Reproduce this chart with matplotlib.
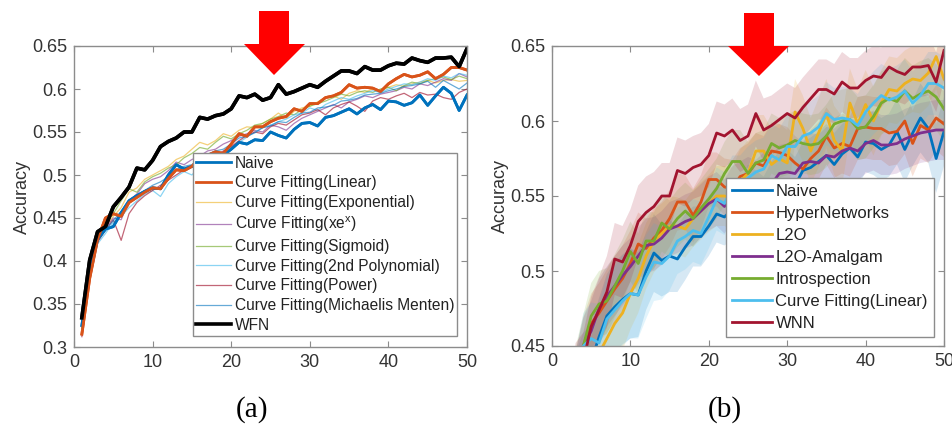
import numpy as np
import matplotlib
matplotlib.use("Agg")
import matplotlib.pyplot as plt
from matplotlib.patches import Polygon

epochs = list(range(1, 51))

wfn = [0.334,0.401,0.434,0.440,0.463,0.474,0.486,0.508,0.506,0.517,0.533,0.539,0.543,0.550,0.550,0.567,0.565,0.569,0.571,0.577,
       0.592,0.590,0.594,0.587,0.590,0.605,0.594,0.597,0.601,0.605,0.602,0.609,0.615,0.621,0.621,0.618,0.626,0.622,0.622,0.627,
       0.630,0.629,0.636,0.633,0.631,0.636,0.636,0.637,0.626,0.647]
naive = [0.325,0.390,0.425,0.437,0.440,0.456,0.470,0.476,0.481,0.485,0.484,0.500,0.512,0.507,0.510,0.508,0.516,0.523,0.523,0.530,
         0.538,0.536,0.541,0.540,0.550,0.546,0.543,0.553,0.560,0.561,0.557,0.567,0.569,0.573,0.577,0.571,0.578,0.582,0.576,0.586,
         0.585,0.581,0.584,0.593,0.581,0.592,0.602,0.595,0.575,0.593]
cf_linear = [0.315,0.380,0.425,0.450,0.455,0.452,0.468,0.474,0.480,0.485,0.484,0.496,0.506,0.505,0.510,0.520,0.523,0.527,0.525,0.536,
             0.548,0.545,0.556,0.556,0.562,0.566,0.568,0.577,0.574,0.583,0.583,0.590,0.592,0.596,0.605,0.601,0.602,0.601,0.597,0.606,
             0.612,0.617,0.614,0.616,0.620,0.612,0.617,0.625,0.625,0.622]
cf_exp = [0.320,0.385,0.428,0.440,0.452,0.462,0.480,0.485,0.495,0.500,0.505,0.510,0.518,0.522,0.530,0.538,0.535,0.540,0.548,0.545,
          0.552,0.556,0.555,0.560,0.565,0.572,0.566,0.574,0.578,0.580,0.585,0.590,0.592,0.588,0.595,0.598,0.596,0.600,0.598,0.602,
          0.605,0.603,0.606,0.608,0.610,0.607,0.610,0.611,0.609,0.610]
cf_xex = [0.318,0.382,0.426,0.438,0.450,0.448,0.470,0.478,0.490,0.495,0.498,0.505,0.515,0.512,0.518,0.522,0.528,0.530,0.536,0.540,
          0.545,0.548,0.552,0.550,0.558,0.556,0.552,0.560,0.566,0.570,0.574,0.578,0.582,0.578,0.585,0.588,0.592,0.590,0.594,0.596,
          0.598,0.602,0.600,0.606,0.604,0.608,0.612,0.610,0.618,0.614]
cf_sigmoid = [0.322,0.388,0.430,0.442,0.455,0.470,0.484,0.480,0.492,0.498,0.502,0.508,0.512,0.520,0.525,0.532,0.530,0.538,0.545,0.542,
              0.548,0.552,0.558,0.560,0.565,0.568,0.572,0.570,0.576,0.580,0.583,0.586,0.590,0.594,0.592,0.596,0.598,0.596,0.600,0.602,
              0.598,0.604,0.608,0.606,0.610,0.612,0.614,0.611,0.615,0.612]
cf_poly2 = [0.320,0.380,0.420,0.432,0.445,0.452,0.462,0.470,0.478,0.482,0.475,0.490,0.498,0.504,0.500,0.510,0.515,0.520,0.525,0.532,
            0.538,0.544,0.550,0.555,0.558,0.562,0.565,0.570,0.572,0.578,0.575,0.582,0.586,0.590,0.588,0.592,0.595,0.598,0.596,0.600,
            0.603,0.606,0.605,0.608,0.612,0.610,0.615,0.613,0.618,0.616]
cf_power = [0.312,0.378,0.422,0.436,0.448,0.424,0.455,0.468,0.476,0.482,0.488,0.494,0.500,0.506,0.510,0.515,0.520,0.522,0.528,0.533,
            0.540,0.546,0.550,0.548,0.556,0.560,0.558,0.564,0.570,0.572,0.576,0.570,0.578,0.582,0.585,0.580,0.574,0.586,0.590,0.588,
            0.592,0.595,0.590,0.596,0.593,0.594,0.590,0.588,0.596,0.600]
cf_mm = [0.318,0.384,0.424,0.436,0.447,0.458,0.468,0.476,0.482,0.488,0.492,0.498,0.506,0.510,0.512,0.518,0.524,0.528,0.530,0.536,
         0.543,0.545,0.549,0.555,0.557,0.562,0.561,0.567,0.572,0.573,0.578,0.579,0.581,0.586,0.587,0.589,0.593,0.594,0.595,0.598,
         0.600,0.603,0.604,0.606,0.609,0.602,0.610,0.605,0.600,0.607]

hyper = [0.318,0.385,0.428,0.450,0.465,0.472,0.480,0.488,0.495,0.505,0.518,0.515,0.522,0.527,0.535,0.546,0.546,0.537,0.546,0.561,
         0.561,0.556,0.555,0.563,0.565,0.572,0.570,0.580,0.579,0.577,0.572,0.568,0.575,0.580,0.590,0.582,0.585,0.583,0.595,0.596,
         0.595,0.595,0.592,0.593,0.600,0.585,0.597,0.594,0.602,0.598]
l2o = [0.300,0.365,0.405,0.420,0.432,0.445,0.455,0.465,0.472,0.485,0.495,0.510,0.520,0.525,0.530,0.530,0.528,0.535,0.540,0.545,
       0.550,0.550,0.548,0.560,0.565,0.580,0.580,0.571,0.575,0.572,0.606,0.595,0.580,0.592,0.605,0.587,0.580,0.612,0.598,0.611,
       0.600,0.612,0.621,0.620,0.625,0.628,0.627,0.632,0.643,0.628]
amalgam = [0.320,0.386,0.428,0.450,0.460,0.475,0.483,0.490,0.497,0.503,0.510,0.517,0.518,0.522,0.528,0.530,0.533,0.535,0.540,0.545,
           0.548,0.543,0.552,0.555,0.558,0.555,0.560,0.558,0.565,0.566,0.565,0.572,0.573,0.572,0.577,0.576,0.580,0.582,0.580,0.585,
           0.587,0.584,0.584,0.585,0.588,0.590,0.592,0.593,0.594,0.594]
introspection = [0.322,0.390,0.430,0.450,0.470,0.478,0.480,0.490,0.500,0.513,0.505,0.520,0.520,0.532,0.528,0.535,0.540,0.535,0.542,0.548,
                 0.555,0.565,0.573,0.573,0.565,0.572,0.574,0.585,0.582,0.584,0.587,0.585,0.584,0.585,0.590,0.598,0.600,0.601,0.595,0.596,
                 0.603,0.612,0.615,0.613,0.620,0.615,0.618,0.620,0.616,0.608]

# band half-widths (right panel), thousandths
sd_naive = [20,20,20,22,24,26,28,30,30,30,28,26,26,24,24,22,22,20,20,20,19,19,20,20,21,21,20,20,20,20,19,19,20,20,21,21,20,20,20,20,21,21,21,22,22,22,23,23,23,23]
sd_hyper = [18,18,18,19,20,20,21,22,22,22,21,20,20,19,19,19,18,18,18,18,18,19,19,19,20,20,20,19,19,19,18,18,19,19,19,20,20,20,21,21,21,21,22,22,22,22,22,22,22,22]
sd_l2o = [20,20,20,22,24,26,26,26,25,24,23,22,21,20,20,19,19,19,19,19,20,20,21,21,22,24,24,24,23,22,22,22,22,23,23,23,23,23,23,23,23,22,22,22,22,22,22,22,22,22]
sd_amal = [18,18,18,19,20,20,20,20,20,19,19,18,18,18,18,18,18,18,18,18,18,18,18,18,18,19,19,19,19,19,19,19,19,19,19,19,20,20,20,20,20,20,20,20,20,20,20,20,20,20]
sd_intro = [19,19,19,21,22,22,22,21,21,20,20,20,19,19,19,19,19,19,19,20,20,21,21,21,21,20,20,20,20,20,20,20,20,20,21,21,21,21,21,21,21,21,21,21,22,22,22,22,22,22]
sd_cfl = [20,20,20,22,24,26,28,29,30,30,29,28,26,24,23,22,22,21,21,21,21,21,21,21,21,21,21,21,21,21,21,21,21,21,21,21,21,21,21,21,21,21,21,21,21,21,21,21,21,21]
sd_wnn = [18,18,18,19,20,22,24,24,24,24,24,24,23,22,22,22,22,21,21,21,21,21,21,21,21,22,21,20,20,20,20,20,20,20,20,20,20,20,20,20,20,20,20,20,20,20,20,20,20,20]

left_labels = ['Naive', 'Curve Fitting(Linear)', 'Curve Fitting(Exponential)', 'Curve Fitting(xe$^\\mathregular{x}$)',
               'Curve Fitting(Sigmoid)', 'Curve Fitting(2nd Polynomial)', 'Curve Fitting(Power)',
               'Curve Fitting(Michaelis Menten)', 'WFN']
right_labels = ['Naive', 'HyperNetworks', 'L2O', 'L2O-Amalgam', 'Introspection', 'Curve Fitting(Linear)', 'WNN']

C_BLUE = '#0072BD'; C_ORANGE = '#D95319'; C_YELLOW = '#EDB120'; C_PURPLE = '#7E2F8E'
C_GREEN = '#77AC30'; C_LBLUE = '#4DBEEE'; C_RED = '#A2142F'

plt.rcParams['font.family'] = ['Liberation Sans', 'DejaVu Sans']
fig = plt.figure(figsize=(9.52, 4.28), dpi=100)

W, H = 952.0, 428.0
axL = fig.add_axes([74/W, 1-347/H, 393/W, 301/H])
axR = fig.add_axes([552/W, 1-346/H, 392/W, 300/H])

ep = np.array(epochs)

# left panel
left_series = [naive, cf_linear, cf_exp, cf_xex, cf_sigmoid, cf_poly2, cf_power, cf_mm, wfn]
left_colors = [C_BLUE, C_ORANGE, C_YELLOW, C_PURPLE, C_GREEN, C_LBLUE, C_RED, C_BLUE, 'black']
left_lw = [2.0, 2.0, 0.9, 0.9, 0.9, 0.9, 0.9, 0.9, 2.6]
left_alpha = [1, 1, 0.6, 0.6, 0.65, 0.65, 0.65, 0.6, 1]
handles = []
for s, c, lw, a, lab in zip(left_series, left_colors, left_lw, left_alpha, left_labels):
    h, = axL.plot(ep, s, color=c, lw=lw, alpha=a, label=lab)
    handles.append(h)
axL.plot(ep, naive, color=C_BLUE, lw=2.0)
axL.plot(ep, cf_linear, color=C_ORANGE, lw=2.0)
axL.plot(ep, wfn, color='black', lw=2.6)
axL.set_xlim(0, 50)
axL.set_ylim(0.3, 0.65)
axL.set_yticks([0.3, 0.35, 0.4, 0.45, 0.5, 0.55, 0.6, 0.65])
axL.set_yticklabels(['0.3', '0.35', '0.4', '0.45', '0.5', '0.55', '0.6', '0.65'])
axL.set_xticks([0, 10, 20, 30, 40, 50])

# right panel
right_series = [naive, hyper, l2o, amalgam, introspection, cf_linear, wfn]
right_sd = [sd_naive, sd_hyper, sd_l2o, sd_amal, sd_intro, sd_cfl, sd_wnn]
right_colors = [C_BLUE, C_ORANGE, C_YELLOW, C_PURPLE, C_GREEN, C_LBLUE, C_RED]
for s, sd, c in zip(right_series, right_sd, right_colors):
    s = np.array(s); sd = np.array(sd) / 1000.0
    axR.fill_between(ep, s - sd, s + sd, color=c, alpha=0.16, lw=0)
rh = []
for s, c, lab in zip(right_series, right_colors, right_labels):
    h, = axR.plot(ep, s, color=c, lw=2.0, label=lab)
    rh.append(h)
axR.set_xlim(0, 50)
axR.set_ylim(0.45, 0.65)
axR.set_yticks([0.45, 0.5, 0.55, 0.6, 0.65])
axR.set_yticklabels(['0.45', '0.5', '0.55', '0.6', '0.65'])
axR.set_xticks([0, 10, 20, 30, 40, 50])

for ax in (axL, axR):
    for sp in ax.spines.values():
        sp.set_color('#8c8c8c')
        sp.set_linewidth(1.0)
    ax.tick_params(direction='in', length=4, width=0.8, color='#8c8c8c', top=True, right=True,
                   labelsize=13, labelcolor='#333333', pad=5)
    ax.set_ylabel('Accuracy', fontsize=13, color='#333333', labelpad=1)

legL = axL.legend(handles=handles, loc='lower right', bbox_to_anchor=(0.975, 0.037), borderaxespad=0,
                  fontsize=11.2, frameon=True, fancybox=False, edgecolor='#8c8c8c', framealpha=1,
                  handlelength=2.3, handletextpad=0.2, labelspacing=0.3, borderpad=0.2)
legL.get_frame().set_linewidth(1.0)
for t in legL.get_texts():
    t.set_color('#222222')
legR = axR.legend(handles=rh, loc='lower right', bbox_to_anchor=(0.974, 0.03), borderaxespad=0,
                  fontsize=12, frameon=True, fancybox=False, edgecolor='#8c8c8c', framealpha=1,
                  handlelength=2.4, handletextpad=0.2, labelspacing=0.42, borderpad=0.35)
legR.get_frame().set_linewidth(1.0)
for t in legR.get_texts():
    t.set_color('#222222')

# red arrows
def arrow(x0, x1, ytop, hx0, hx1, yh, tipx, tipy):
    pts = [(x0, ytop), (x1, ytop), (x1, yh), (hx1, yh), (tipx, tipy), (hx0, yh), (x0, yh)]
    pts = [(px / W, 1 - py / H) for px, py in pts]
    fig.patches.append(Polygon(pts, closed=True, transform=fig.transFigure, facecolor='#ff0000',
                               edgecolor='none', zorder=10))

arrow(259, 289, 11, 244, 305, 44, 274, 75)
arrow(744, 774, 13, 728, 789, 46, 759, 76)

fig.text(252/W, 1-410/H, '(a)', ha='center', va='center', fontsize=21, family='Liberation Serif')
fig.text(725/W, 1-410/H, '(b)', ha='center', va='center', fontsize=21, family='Liberation Serif')

fig.savefig('out.png', dpi=100)
